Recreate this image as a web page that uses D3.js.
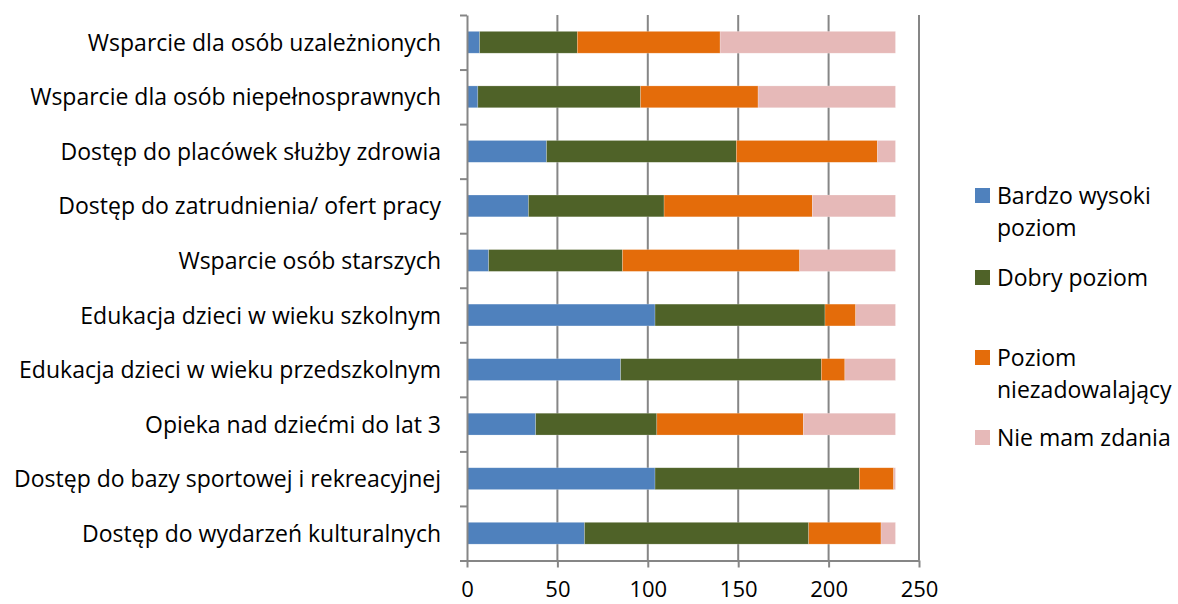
<!DOCTYPE html>
<html><head><meta charset="utf-8">
<script src="https://cdn.jsdelivr.net/npm/d3@7"></script>
<style>
html,body{margin:0;padding:0;background:#fff;}
svg text{font-family:"Open Sans",sans-serif;fill:#000;}
</style></head>
<body><svg id="chart" width="1178" height="604"></svg>
<script>
const categories = [
  "Wsparcie dla osób uzależnionych",
  "Wsparcie dla osób niepełnosprawnych",
  "Dostęp do placówek służby zdrowia",
  "Dostęp do zatrudnienia/ ofert pracy",
  "Wsparcie osób starszych",
  "Edukacja dzieci w wieku szkolnym",
  "Edukacja dzieci w wieku przedszkolnym",
  "Opieka nad dziećmi do lat 3",
  "Dostęp do bazy sportowej i rekreacyjnej",
  "Dostęp do wydarzeń kulturalnych"
];
const seriesNames = ["Bardzo wysoki poziom","Dobry poziom","Poziom niezadowalający","Nie mam zdania"];
const legendLines = [["Bardzo wysoki","poziom"],["Dobry poziom"],["Poziom","niezadowalający"],["Nie mam zdania"]];
const bardzoWysoki    = [7, 6, 44, 34, 12, 104, 85, 38, 104, 65];
const dobry           = [54, 90, 105, 75, 74, 94, 111, 67, 113, 124];
const niezadowalajacy = [79, 65, 78, 82, 98, 17, 13, 81, 19, 40];
const nieMamZdania    = [97, 76, 10, 46, 53, 22, 28, 51, 1, 8];
const xTicks = [0, 50, 100, 150, 200, 250];
const colors = ["#4F81BD","#4F6228","#E46C0A","#E6B9B8"];

const seriesValues = [bardzoWysoki, dobry, niezadowalajacy, nieMamZdania];
const rows = categories.map((c,i)=>{
  const o = {cat:c};
  seriesNames.forEach((s,j)=>o[s]=seriesValues[j][i]);
  return o;
});
const stacked = d3.stack().keys(seriesNames)(rows);

const svg = d3.select("#chart");
const mLeft = 467, mRight = 919, mTop = 15, mBottom = 560.5;
const x = d3.scaleLinear().domain([0,250]).range([mLeft,mRight]);
const y = d3.scaleBand().domain(categories).range([mTop,mBottom]).paddingInner(0.6).paddingOuter(0.3);
const yIdx = d3.scaleLinear().domain([0,categories.length]).range([mTop,mBottom]);

// grid lines
svg.append("g").selectAll("line").data(xTicks.slice(1)).join("line")
  .attr("x1",d=>x(d)).attr("x2",d=>x(d)).attr("y1",mTop).attr("y2",mBottom)
  .attr("stroke","#868686").attr("stroke-width",2);

// bars
svg.append("g").selectAll("g").data(stacked).join("g")
  .attr("fill",(d,i)=>colors[i])
  .selectAll("rect").data(d=>d).join("rect")
  .attr("x",d=>x(d[0])).attr("width",d=>x(d[1])-x(d[0]))
  .attr("y",d=>y(d.data.cat)).attr("height",y.bandwidth())
  .attr("stroke","#ffffff").attr("stroke-opacity",0.35).attr("stroke-width",0.6);

// x axis
const xAxis = svg.append("g").attr("transform",`translate(0,${mBottom})`)
  .call(d3.axisBottom(x).tickValues(xTicks).tickSize(7).tickPadding(14).tickSizeOuter(0));
xAxis.select(".domain").attr("stroke","#868686").attr("stroke-width",2);
xAxis.selectAll(".tick line").attr("stroke","#868686").attr("stroke-width",2);
xAxis.selectAll(".tick text").attr("font-size",22).attr("font-family","Open Sans").attr("fill","#000");

// y axis (category boundaries)
const yAxis = svg.append("g").attr("transform",`translate(${mLeft},0)`)
  .call(d3.axisLeft(yIdx).tickValues(d3.range(0,categories.length+1)).tickSize(7).tickFormat("").tickSizeOuter(0));
yAxis.select(".domain").attr("stroke","#868686").attr("stroke-width",2);
yAxis.selectAll(".tick line").attr("stroke","#868686").attr("stroke-width",2);

// category labels
svg.append("g").selectAll("text").data(categories).join("text")
  .attr("x",mLeft-26).attr("y",d=>y(d)+y.bandwidth()/2).attr("dy","0.37em")
  .attr("text-anchor","end").attr("font-size",23).text(d=>d);

// legend
const legendY = [195.5, 277.5, 357.5, 437.5];
const lg = svg.append("g").selectAll("g").data(seriesNames).join("g")
  .attr("transform",(d,i)=>`translate(975,${legendY[i]})`);
lg.append("rect").attr("x",0).attr("y",-7.5).attr("width",15).attr("height",15).attr("fill",(d,i)=>colors[i]);
lg.each(function(d,i){
  const t = d3.select(this).append("text").attr("x",22).attr("y",8).attr("font-size",23);
  legendLines[i].forEach((ln,k)=>t.append("tspan").attr("x",22).attr("dy",k===0?0:32).text(ln));
});
</script></body></html>
